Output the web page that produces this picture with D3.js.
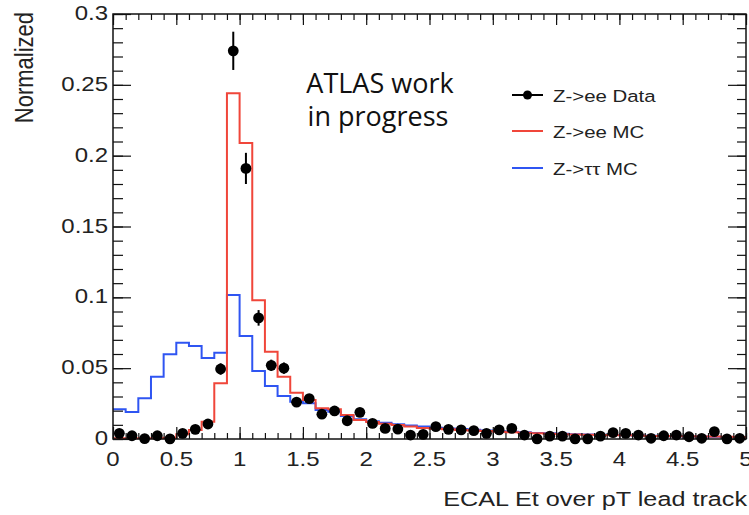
<!DOCTYPE html>
<html>
<head>
<meta charset="utf-8">
<script src="https://cdn.jsdelivr.net/npm/d3@7"></script>
<style>
  body { margin: 0; background: #fff; }
  text { font-family: "Liberation Sans", Arial, sans-serif; fill: #222; }
</style>
</head>
<body>
<div class="canvas"></div>
<script>
// histogram values, 50 bins of width 0.1 from 0 to 5
const zeeData = [
  0.004, 0.0023, 0.0003, 0.0023, 0.0001, 0.004, 0.0068, 0.0106, 0.0494, 0.274,
  0.191, 0.0855, 0.052, 0.050, 0.026, 0.0285, 0.0175, 0.0198, 0.0129, 0.0188,
  0.011, 0.0075, 0.007, 0.0028, 0.0033, 0.0087, 0.0068, 0.0064, 0.0059, 0.004,
  0.0064, 0.0075, 0.0028, 0.0001, 0.002, 0.002, 0.0001, 0.0001, 0.002, 0.0045,
  0.004, 0.0028, 0.0005, 0.0023, 0.0028, 0.0016, 0.0005, 0.0052, 0.0001, 0.0005
];
const zeeErr = [
  0.002, 0.002, 0.001, 0.002, 0.001, 0.002, 0.002, 0.003, 0.004, 0.0135,
  0.011, 0.0055, 0.004, 0.004, 0.003, 0.003, 0.002, 0.002, 0.002, 0.002,
  0.002, 0.002, 0.002, 0.001, 0.001, 0.002, 0.002, 0.002, 0.002, 0.001,
  0.002, 0.002, 0.001, 0.001, 0.001, 0.001, 0.001, 0.001, 0.001, 0.001,
  0.001, 0.001, 0.001, 0.001, 0.001, 0.001, 0.001, 0.001, 0.001, 0.001
];
const zeeMC = [
  0.0006, 0.0006, 0.0006, 0.0006, 0.0008, 0.0033, 0.0064, 0.0122, 0.0393, 0.244,
  0.209, 0.098, 0.0616, 0.044, 0.0327, 0.0275, 0.0217, 0.021, 0.017, 0.0135,
  0.012, 0.0108, 0.0098, 0.0088, 0.0078, 0.0072, 0.0068, 0.0064, 0.006, 0.0056,
  0.0052, 0.0048, 0.0045, 0.004, 0.0037, 0.0034, 0.0032, 0.003, 0.0028, 0.0027,
  0.0026, 0.0024, 0.0022, 0.0021, 0.002, 0.0019, 0.0018, 0.0017, 0.0016, 0.0015
];
const ztautauMC = [
  0.021, 0.019, 0.0287, 0.044, 0.0598, 0.068, 0.0656, 0.0572, 0.0609, 0.1016,
  0.0727, 0.048, 0.0374, 0.0303, 0.0263, 0.0252, 0.0205, 0.0193, 0.0162, 0.014,
  0.0125, 0.0115, 0.0105, 0.0095, 0.0088, 0.008, 0.0075, 0.007, 0.0065, 0.006,
  0.0055, 0.0052, 0.0048, 0.0042, 0.004, 0.0037, 0.0034, 0.0032, 0.003, 0.0028,
  0.0027, 0.0025, 0.0023, 0.0021, 0.002, 0.0018, 0.0017, 0.0016, 0.0015, 0.0014
];
const binWidth = 0.1;
const xTickLabels = ['0', '0.5', '1', '1.5', '2', '2.5', '3', '3.5', '4', '4.5', '5'];
const yTickLabels = ['0', '0.05', '0.1', '0.15', '0.2', '0.25', '0.3'];
const legendNames = ['Z->ee Data', 'Z->ee MC', 'Z->\u03c4\u03c4 MC'];

const width = 749, height = 515;
const frame = { left: 113, right: 746, top: 14, bottom: 439 };
const red = '#f0463a', blue = '#2f55f2';
const stretch = 1.2; // picture was widened a little

const svg = d3.select('.canvas')
  .append('svg')
  .attr('width', width)
  .attr('height', height);

const x = d3.scaleLinear().domain([0, 5]).range([frame.left, frame.right]);
const y = d3.scaleLinear().domain([0, 0.3]).range([frame.bottom, frame.top]);

const edges = zeeData.map((d, i) => i * binWidth);
const centers = edges.map(e => e + binWidth / 2);

// helper for the slightly widened Helvetica text
const label = (g, tx, ty, str, size, anchor) => g.append('text')
  .attr('transform', `translate(${tx}, ${ty}) scale(${stretch}, 1)`)
  .attr('text-anchor', anchor)
  .attr('font-size', size)
  .text(str);

// histograms as steps
const stepLine = d3.line()
  .x(d => x(d[0]))
  .y(d => y(d[1]))
  .curve(d3.curveStepAfter);

const histPoints = vals => {
  const pts = vals.map((v, i) => [edges[i], v]);
  pts.push([5, vals[vals.length - 1]]);
  return pts;
};

svg.append('path')
  .attr('d', stepLine(histPoints(ztautauMC)))
  .attr('fill', 'none')
  .attr('stroke', blue)
  .attr('stroke-width', 2);

svg.append('path')
  .attr('d', stepLine(histPoints(zeeMC)))
  .attr('fill', 'none')
  .attr('stroke', red)
  .attr('stroke-width', 2);

// ticks, pointing inward on all four sides
const majorX = d3.range(0, 5.01, 0.5), minorX = d3.range(0, 5.01, 0.1);
const majorY = d3.range(0, 0.301, 0.05), minorY = d3.range(0, 0.301, 0.01);

const addAxis = (axis, tx, ty) => {
  svg.append('g')
    .attr('transform', `translate(${tx}, ${ty})`)
    .call(axis)
    .call(g => g.select('.domain').remove())
    .call(g => g.selectAll('line').attr('stroke', '#111').attr('stroke-width', 1.2));
};

addAxis(d3.axisTop(x).tickValues(minorX).tickSize(6).tickFormat(''), 0, frame.bottom);
addAxis(d3.axisTop(x).tickValues(majorX).tickSize(12).tickFormat(''), 0, frame.bottom);
addAxis(d3.axisBottom(x).tickValues(minorX).tickSize(6).tickFormat(''), 0, frame.top);
addAxis(d3.axisBottom(x).tickValues(majorX).tickSize(11).tickFormat(''), 0, frame.top);
addAxis(d3.axisRight(y).tickValues(minorY).tickSize(10).tickFormat(''), frame.left, 0);
addAxis(d3.axisRight(y).tickValues(majorY).tickSize(18).tickFormat(''), frame.left, 0);
addAxis(d3.axisLeft(y).tickValues(minorY).tickSize(9).tickFormat(''), frame.right, 0);
addAxis(d3.axisLeft(y).tickValues(majorY).tickSize(18).tickFormat(''), frame.right, 0);

svg.append('rect')
  .attr('x', frame.left)
  .attr('y', frame.top)
  .attr('width', frame.right - frame.left)
  .attr('height', frame.bottom - frame.top)
  .attr('fill', 'none')
  .attr('stroke', '#111')
  .attr('stroke-width', 1.5);

// tick labels
const labels = svg.append('g');
xTickLabels.forEach((t, i) => label(labels, x(majorX[i]), 466, t, 20, 'middle'));
yTickLabels.forEach((t, i) => label(labels, 108, y(majorY[i]) + 6, t, 20, 'end'));

// axis titles
label(svg, 747, 506, 'ECAL Et over pT lead track', 21, 'end');
svg.append('text')
  .attr('transform', `translate(33, 12) rotate(-90) scale(1, ${stretch})`)
  .attr('text-anchor', 'end')
  .attr('font-size', 22)
  .text('Normalized');

// data points with error bars
const pts = svg.append('g');
pts.selectAll('line')
  .data(zeeData)
  .enter()
  .append('line')
    .attr('x1', (d, i) => x(centers[i]))
    .attr('x2', (d, i) => x(centers[i]))
    .attr('y1', (d, i) => y(d + zeeErr[i]))
    .attr('y2', (d, i) => y(d - zeeErr[i]))
    .attr('stroke', '#000')
    .attr('stroke-width', 2);
pts.selectAll('circle')
  .data(zeeData)
  .enter()
  .append('circle')
    .attr('cx', (d, i) => x(centers[i]))
    .attr('cy', d => y(d))
    .attr('r', 5.4)
    .attr('fill', '#000');

// ATLAS label
const atlas = svg.append('g')
  .attr('font-size', 27)
  .attr('text-anchor', 'middle');
atlas.append('text').attr('x', 380).attr('y', 93).style('font-family', '"Open Sans", sans-serif').style('fill', '#111').text('ATLAS work');
atlas.append('text').attr('x', 378).attr('y', 126).style('font-family', '"Open Sans", sans-serif').style('fill', '#111').text('in progress');

// legend
const legend = svg.append('g');
const legendY = [95, 131, 168];
const legendColors = ['#000', red, blue];
legendNames.forEach((name, i) => {
  legend.append('line')
    .attr('x1', 512).attr('x2', 543)
    .attr('y1', legendY[i]).attr('y2', legendY[i])
    .attr('stroke', legendColors[i])
    .attr('stroke-width', 2);
  label(legend, 553, legendY[i] + 7, name, 17, 'start');
});
legend.append('circle')
  .attr('cx', 527.5).attr('cy', legendY[0])
  .attr('r', 4.5)
  .attr('fill', '#000');
</script>
</body>
</html>
